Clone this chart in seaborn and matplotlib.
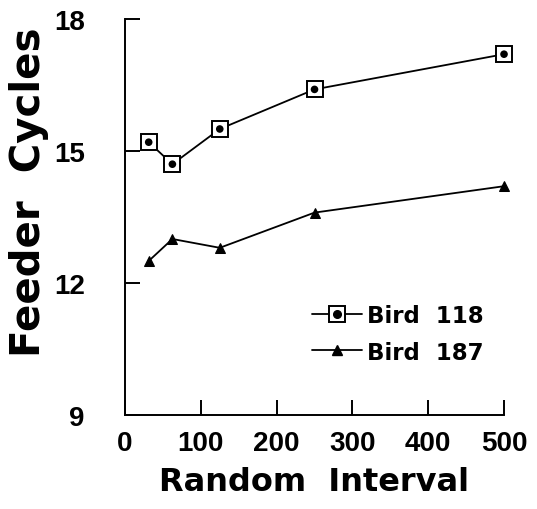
import matplotlib
matplotlib.use("Agg")
import matplotlib.pyplot as plt
from matplotlib import font_manager
from matplotlib.lines import Line2D
import pandas as pd
import seaborn as sns

# Reinforcement schedule (random interval, s) and feeder cycles per bird
intervals = [31.25, 62.5, 125, 250, 500]
bird_118 = [15.2, 14.7, 15.5, 16.4, 17.2]
bird_187 = [12.5, 13.0, 12.8, 13.6, 14.2]
x_ticks = [0, 100, 200, 300, 400, 500]
y_ticks = [9, 12, 15, 18]

df = pd.DataFrame({
    "interval": intervals * 2,
    "cycles": bird_118 + bird_187,
    "bird": ["Bird 118"] * len(intervals) + ["Bird 187"] * len(intervals),
})

sns.set_theme(style="ticks")
plt.rcParams["font.family"] = ["DejaVu Sans"]

names = {f.name for f in font_manager.fontManager.ttflist}
narrow = "Liberation Sans Narrow" if "Liberation Sans Narrow" in names else "Liberation Sans"

fig = plt.figure(figsize=(5.37, 5.10), dpi=100)
ax = fig.add_axes([0.2328, 0.1843, 0.7058, 0.7765])

d118 = df[df["bird"] == "Bird 118"]
d187 = df[df["bird"] == "Bird 187"]

sns.lineplot(data=d118, x="interval", y="cycles", ax=ax, color="black", lw=1.3,
             marker="s", markersize=11, markerfacecolor="white",
             markeredgecolor="black", markeredgewidth=1.4, legend=False,
             clip_on=False)
sns.scatterplot(data=d118, x="interval", y="cycles", ax=ax, color="black",
                s=30, edgecolor="none", legend=False, zorder=5, clip_on=False)
sns.lineplot(data=d187, x="interval", y="cycles", ax=ax, color="black", lw=1.3,
             marker="^", markersize=7, markerfacecolor="black",
             markeredgecolor="black", legend=False, clip_on=False)

ax.set_xlim(0, 500)
ax.set_ylim(9, 18)
ax.set_xticks(x_ticks)
ax.set_yticks(y_ticks)
sns.despine(ax=ax)
for s in ("left", "bottom"):
    ax.spines[s].set_linewidth(1.4)
    ax.spines[s].set_color("black")
ax.tick_params(direction="in", length=11, width=1.4, colors="black")
ax.tick_params(axis="x", pad=11)
ax.tick_params(axis="y", pad=29)
for lab in ax.get_xticklabels() + ax.get_yticklabels():
    lab.set_fontfamily(narrow)
    lab.set_fontweight("bold")
    lab.set_fontsize(20)
    lab.set_color("black")

ax.set_xlabel("Random  Interval", fontsize=23, fontweight="bold", color="black")
ax.set_ylabel("Feeder  Cycles", fontsize=29, fontweight="bold", color="black")
ax.xaxis.set_label_coords(0.5, -0.13)
ax.yaxis.set_label_coords(-0.2, 0.566)

h118 = (Line2D([], [], color="black", lw=1.3, marker="s", markersize=11,
               markerfacecolor="white", markeredgecolor="black", markeredgewidth=1.4),
        Line2D([], [], color="black", lw=0, marker="o", markersize=5.5))
h187 = Line2D([], [], color="black", lw=1.3, marker="^", markersize=7)
leg = ax.legend([h118, h187], ["Bird  118", "Bird  187"], loc="upper left",
                bbox_to_anchor=(0.438, 0.333), frameon=False, handlelength=2.2,
                handletextpad=0.2, labelspacing=0.6,
                prop={"weight": "bold", "size": 16.5})
for t in leg.get_texts():
    t.set_color("black")

fig.savefig("out.png", dpi=100, facecolor="white")
